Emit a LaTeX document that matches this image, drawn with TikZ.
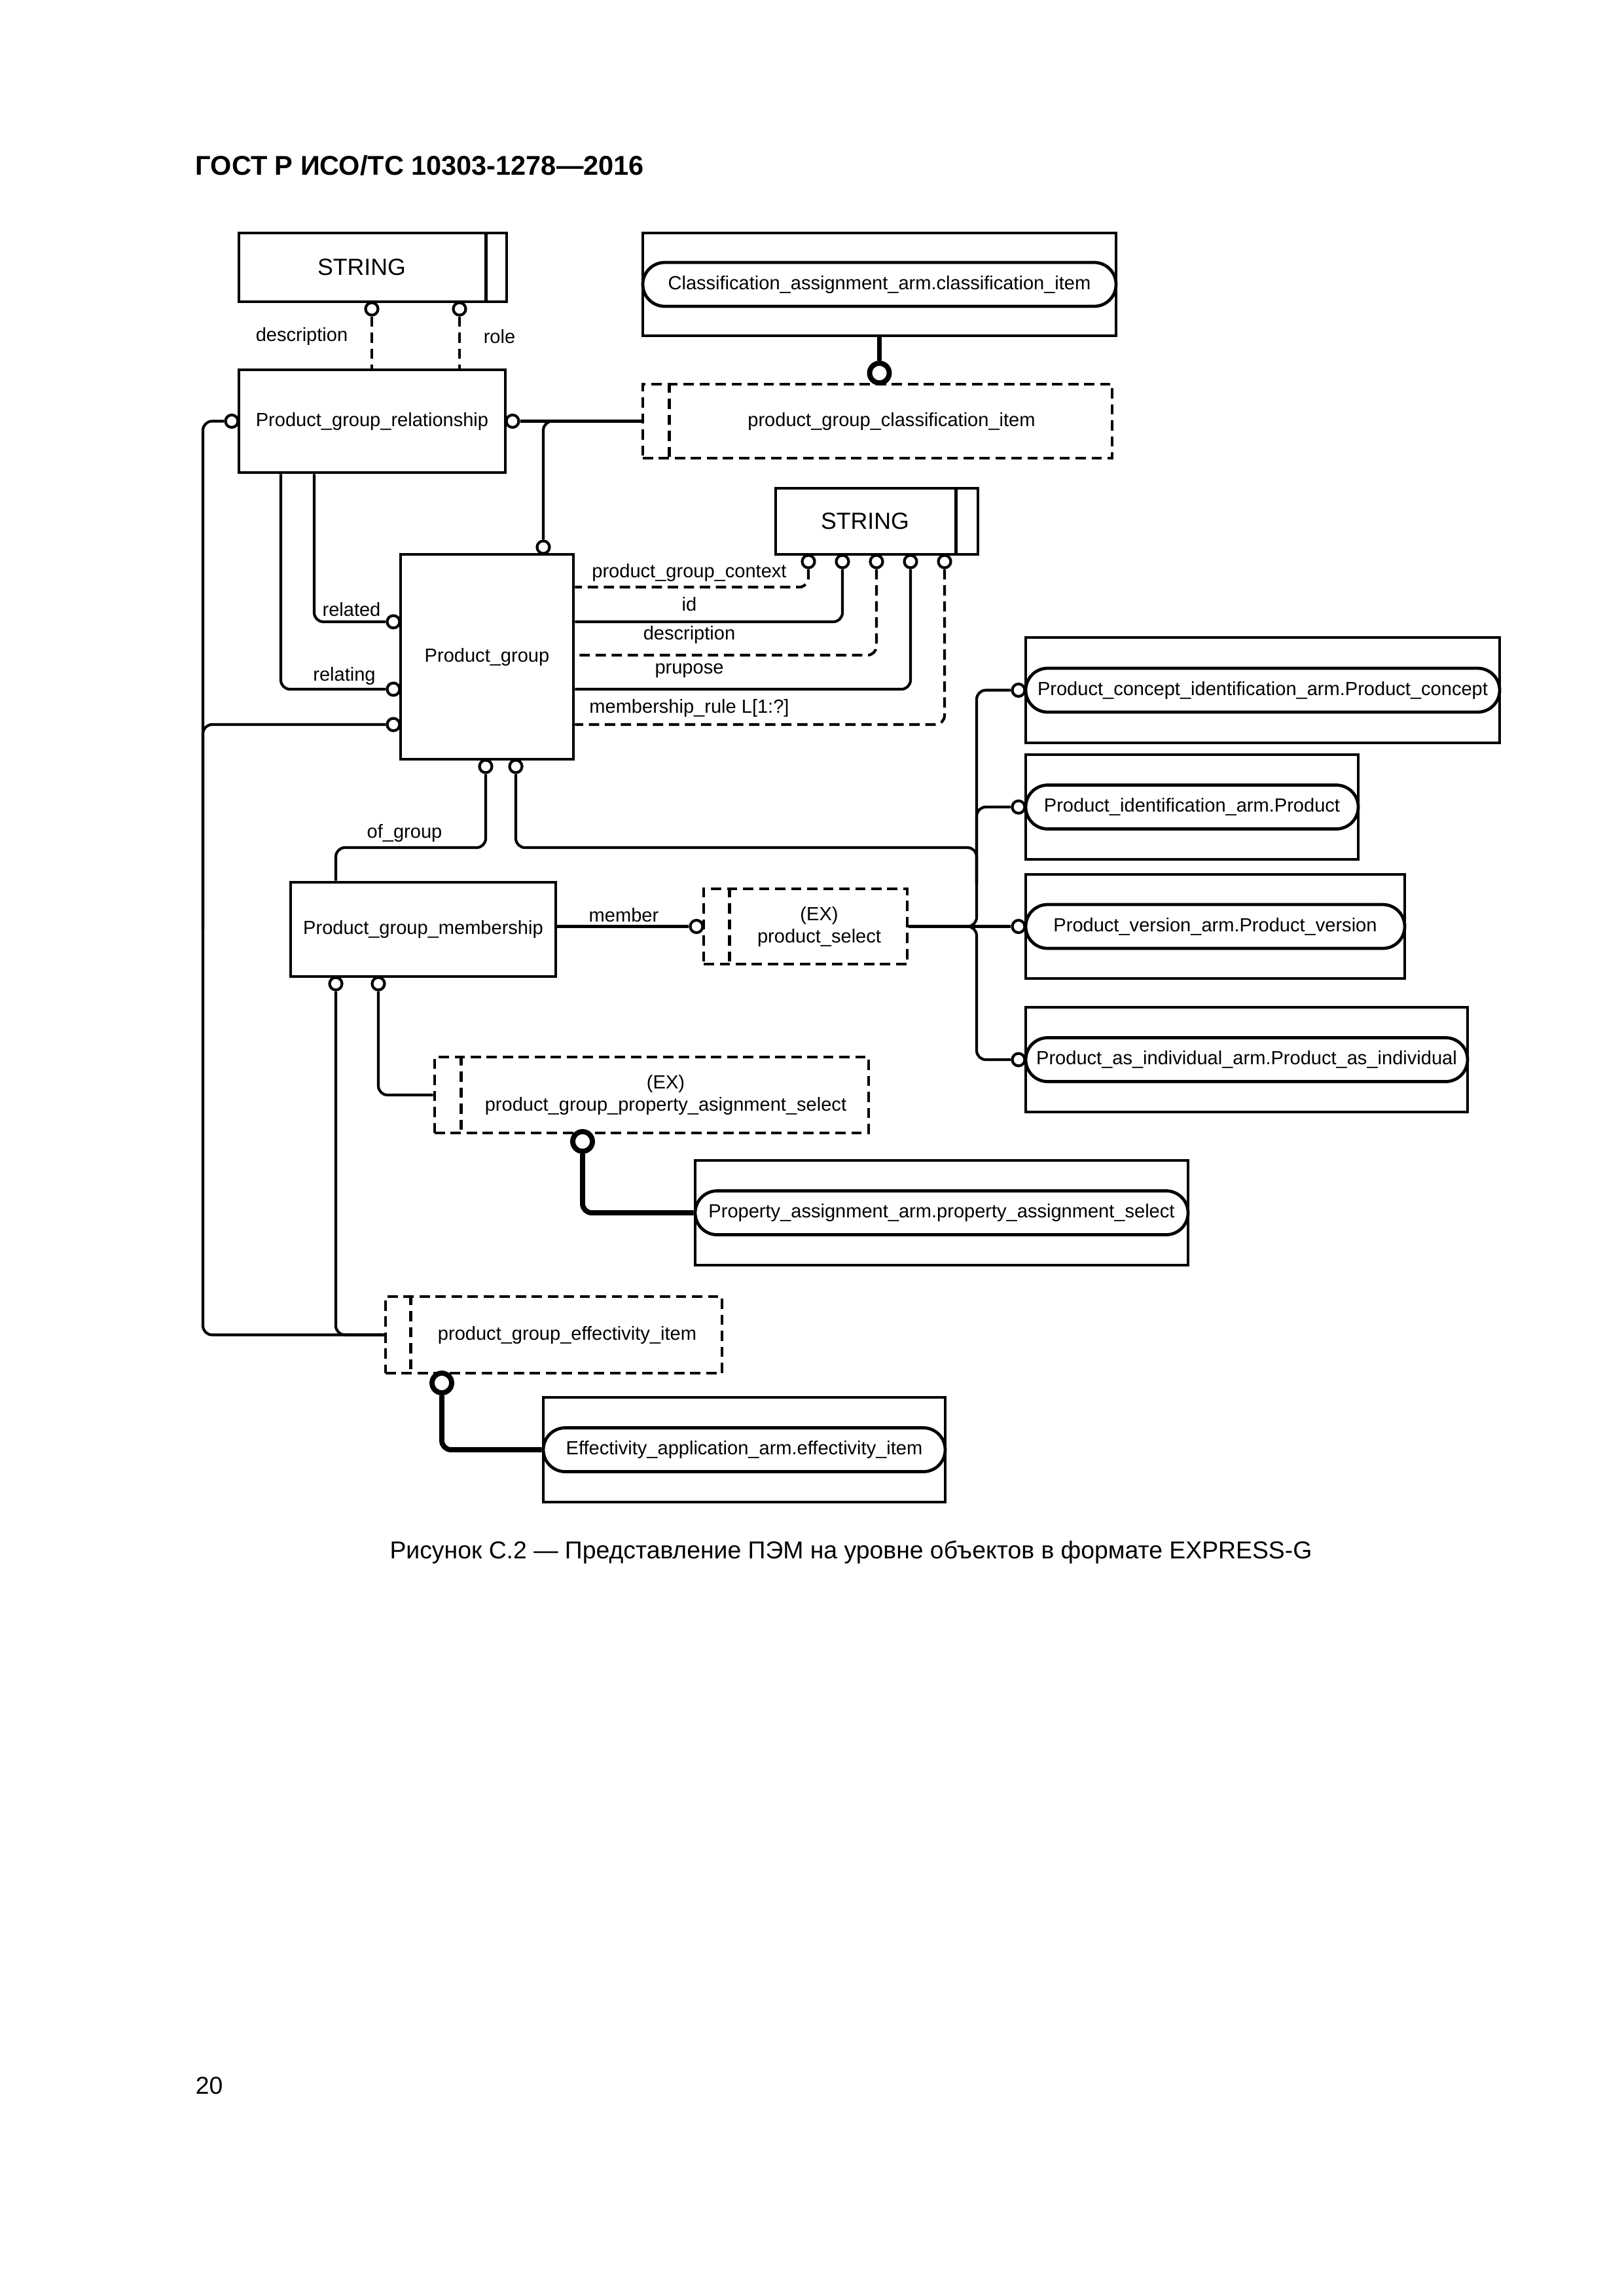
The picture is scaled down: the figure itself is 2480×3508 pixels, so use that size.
\documentclass[tikz,border=0pt]{standalone}
\usepackage{fontspec}
\setmainfont{Liberation Sans}
\usetikzlibrary{calc}
\usetikzlibrary{shapes.misc}
\def\pu{0.0084677cm}
\tikzset{
    every node/.style={font=\fontsize{7}{8.2}\selectfont, inner sep=0pt},
    sz/.style 2 args={minimum width=#1*\pu, minimum height=#2*\pu},
    entity/.style={draw, rectangle, line width=1.15pt},
    seltype/.style={draw, rectangle, line width=1.15pt, dash pattern=on 3.8pt off 2.1pt},
    typelbl/.style={font=\fontsize{8.6}{10}\selectfont},
    pill/.style={draw, rounded rectangle, line width=1.15pt, minimum height=67*\pu, fill=white},
    ring/.style={draw, circle, line width=1pt, minimum size=19*\pu, fill=white},
    bigring/.style={draw, circle, line width=1.9pt, minimum size=30*\pu, fill=white},
    boxline/.style={line width=1.15pt},
    conn/.style={line width=1pt},
    dsh/.style={dash pattern=on 3.8pt off 2.1pt},
    thk/.style={line width=1.9pt},
    rc/.style={rounded corners=14*\pu}
}
\begin{document}
\begin{tikzpicture}[x=\pu, y=-\pu]
    \useasboundingbox (0,0) rectangle (2480,3508);

    % page texts
    \node[anchor=west, font=\fontsize{10}{12}\selectfont\bfseries] (hdr) at (298,253) {ГОСТ Р ИСО/ТС 10303-1278—2016};
    \node[font=\fontsize{9}{11}\selectfont] (cap) at (1300,2372) {Рисунок С.2 — Представление ПЭМ на уровне объектов в формате EXPRESS-G};
    \node[anchor=west, font=\fontsize{9}{11}\selectfont] (pnum) at (298,3187) {20};

    % simple types
    \node[entity, sz={409}{105}, label={[typelbl, xshift=-17*\pu]center:STRING}] (str1) at (569.5,408.5) {};
    \draw[boxline] ([xshift=-34*\pu]str1.north east) -- ([xshift=-34*\pu]str1.south east);
    \node[entity, sz={309}{101}, label={[typelbl, xshift=-18*\pu]center:STRING}] (str2) at (1339.5,796.5) {};
    \draw[boxline] ([xshift=-36*\pu]str2.north east) -- ([xshift=-36*\pu]str2.south east);

    % entities
    \node[entity, sz={407}{157}] (pgr) at (568.5,643.5) {Product\_group\_relationship};
    \node[entity, sz={264}{313}] (pg) at (744,1003.5) {Product\_group};
    \node[entity, sz={405}{144}] (pgm) at (646.5,1420) {Product\_group\_membership};

    % select types
    \node[seltype, sz={717}{113}, label={[xshift=21.5*\pu]center:product\_group\_classification\_item}] (pgci) at (1340.5,643.5) {};
    \draw[boxline, dsh] ([xshift=43*\pu]pgci.north west) -- ([xshift=43*\pu]pgci.south west);
    \node[seltype, sz={311}{115}, label={[align=center, xshift=21*\pu]center:{(EX)\\product\_select}}] (ps) at (1230.5,1415.5) {};
    \draw[boxline, dsh] ([xshift=42*\pu]ps.north west) -- ([xshift=42*\pu]ps.south west);
    \node[seltype, sz={663}{116}, label={[align=center, xshift=21.5*\pu]center:{(EX)\\product\_group\_property\_asignment\_select}}] (pgpas) at (995.5,1673) {};
    \draw[boxline, dsh] ([xshift=43*\pu]pgpas.north west) -- ([xshift=43*\pu]pgpas.south west);
    \node[seltype, sz={514}{117}, label={[xshift=20.5*\pu]center:product\_group\_effectivity\_item}] (pgei) at (846,2039.5) {};
    \draw[boxline, dsh] ([xshift=41*\pu]pgei.north west) -- ([xshift=41*\pu]pgei.south west);

    % referenced entities
    \node[entity, sz={723}{157}] (clsbox) at (1343.5,434.5) {};
    \node[pill, minimum width=723*\pu] (cls) at (clsbox.center) {Classification\_assignment\_arm.classification\_item};
    \node[entity, sz={753}{160}] (propbox) at (1438.5,1853) {};
    \node[pill, minimum width=753*\pu] (prop) at (propbox.center) {Property\_assignment\_arm.property\_assignment\_select};
    \node[entity, sz={614}{160}] (effbox) at (1137,2215) {};
    \node[pill, minimum width=614*\pu] (eff) at (effbox.center) {Effectivity\_application\_arm.effectivity\_item};
    \node[entity, sz={724}{161}] (pcbox) at (1929,1054.5) {};
    \node[pill, minimum width=724*\pu] (pc) at (pcbox.center) {Product\_concept\_identification\_arm.Product\_concept};
    \node[entity, sz={508}{160}] (pibox) at (1821,1233) {};
    \node[pill, minimum width=508*\pu] (pi) at (pibox.center) {Product\_identification\_arm.Product};
    \node[entity, sz={579}{159}] (pvbox) at (1856.5,1415.5) {};
    \node[pill, minimum width=579*\pu] (pv) at (pvbox.center) {Product\_version\_arm.Product\_version};
    \node[entity, sz={675}{160}] (paibox) at (1904.5,1619) {};
    \node[pill, minimum width=675*\pu] (pai) at (paibox.center) {Product\_as\_individual\_arm.Product\_as\_individual};

    % attribute circles
    \node[ring] (sdesc1) at (568,472) {};
    \node[ring] (srole) at (702,472) {};
    \node[ring] (sctx) at (1235,858) {};
    \node[ring] (sid) at (1287,858) {};
    \node[ring] (sdesc2) at (1339,858) {};
    \node[ring] (spur) at (1391,858) {};
    \node[ring] (srule) at (1443,858) {};
    \node[ring] (rpgrl) at (354,643.5) {};
    \node[ring] (rpgrr) at (783,643.5) {};
    \node[ring] (rpgt) at (830,836) {};
    \node[ring] (rrel) at (601,950) {};
    \node[ring] (rrelg) at (601,1053) {};
    \node[ring] (rpgl) at (601,1107) {};
    \node[ring] (rog) at (742,1171) {};
    \node[ring] (rpgb) at (788,1171) {};
    \node[ring] (rmem) at (1064,1415.5) {};
    \node[ring] (reff) at (513,1503) {};
    \node[ring] (rprop) at (578,1503) {};
    \node[ring] (rpc) at (1556,1054.5) {};
    \node[ring] (rpi) at (1556,1233) {};
    \node[ring] (rpv) at (1556,1415.5) {};
    \node[ring] (rpai) at (1556,1619) {};
    \node[bigring] (tcls) at (1343.5,570) {};
    \node[bigring] (tprop) at (890,1744) {};
    \node[bigring] (teff) at (675,2113) {};

    \coordinate (rail) at (310,0);
    \coordinate (og) at (513,1295);
    \coordinate (fan) at (1492,1295);

    % Product_group_relationship
    \draw[conn, dsh] (sdesc1.south) -- (sdesc1.south |- pgr.north);
    \draw[conn, dsh] (srole.south) -- (srole.south |- pgr.north);
    \node (ldesc1) at (461,514) {description};
    \node (lrole) at (763,514) {role};
    \draw[conn] (rpgrr.east) -- (pgci.west);
    \draw[conn, rc] (pgci.west) -| (rpgt.north);
    \draw[conn, rc] (rpgrl.west) -| (rail |- pgei.west) -- (pgei.west);
    \draw[conn, rc] (rpgl.west) -| (rail |- pgm.center);
    \draw[conn, rc] (pgr.south -| 480,0) |- (rrel.west);
    \draw[conn, rc] (pgr.south -| 429,0) |- (rrelg.west);
    \node (lrel) at (537,931) {related};
    \node (lrelg) at (526,1033) {relating};

    % Product_group attributes
    \draw[conn, dsh, rc] (sctx.south) |- (pg.east |- 0,897);
    \draw[conn, rc] (sid.south) |- (pg.east |- 0,950);
    \draw[conn, dsh, rc] (sdesc2.south) |- (pg.east |- 0,1001);
    \draw[conn, rc] (spur.south) |- (pg.east |- 0,1053);
    \draw[conn, dsh, rc] (srule.south) |- (pg.east |- 0,1107);
    \node (lctx) at (1053,875) {product\_group\_context};
    \node (lid) at (1053,923) {id};
    \node (ldesc2) at (1053,970) {description};
    \node (lpur) at (1053,1025) {prupose};
    \node (lrule) at (1053,1082) {membership\_rule L[1:?]};

    % Product_group_membership
    \draw[conn, rc] (rog.south) |- (og) -- (og |- pgm.north);
    \node (log) at (618,1273) {of\_group};
    \draw[conn, rc] (rpgb.south) |- (fan) -- (fan |- 0,1350);
    \draw[conn] (rmem.west -| pgm.east) -- (rmem.west);
    \node (lmem) at (953,1398) {member};
    \draw[conn, rc] (reff.south) |- (pgei.west);
    \draw[conn, rc] (rprop.south) |- (pgpas.west);

    % product_select
    \draw[conn, rc] (rpc.west) -| (fan |- ps.east) -- (ps.east);
    \draw[conn, rc] (rpai.west) -| (fan |- ps.east) -- (ps.east);
    \draw[conn, rc] (rpi.west) -| (fan |- 0,1350);
    \draw[conn] (ps.east) -- (rpv.west);

    % thick links
    \draw[thk] (clsbox.south) -- (tcls.north);
    \draw[thk, rc] (tprop.south) |- (prop.west);
    \draw[thk, rc] (teff.south) |- (eff.west);
\end{tikzpicture}
\end{document}
